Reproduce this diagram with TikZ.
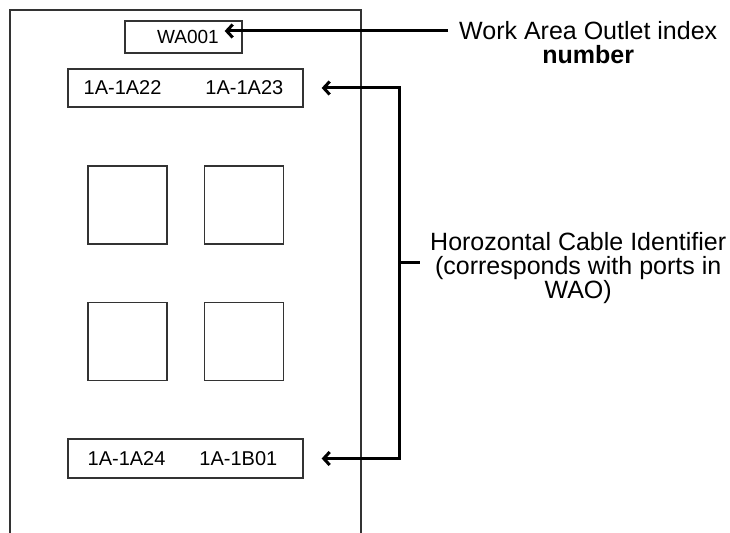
\documentclass[tikz,border=0pt]{standalone}
\usepackage{fontspec}
\setmainfont{Liberation Sans}
\usetikzlibrary{arrows.meta, positioning}

\tikzset{
  box/.style={draw=black!80, line width=1.3bp, inner sep=0pt},
  pad/.style={draw=black!80, line width=1.7bp, minimum width=79bp, minimum height=78bp},
  wire/.style={line width=3bp, line join=miter},
  arr/.style={wire, -{Straight Barb[length=6bp,width=13bp]}},
  note/.style={inner sep=0pt, align=center, font=\fontsize{25bp}{24bp}\selectfont}
}

\begin{document}
\begin{tikzpicture}[x=1bp, y=-1bp]
    \useasboundingbox (0,0) rectangle (730,533);

    % outlet face plate
    \draw[black!80, line width=1.3bp] (10,540) -- (10,10) -- (361,10) -- (361,540);

    \node[box, minimum width=117bp, minimum height=32bp, font=\fontsize{19bp}{19bp}\selectfont]
        (wa) at (183.5,37) {\hspace*{9bp}WA001};
    \node[box, minimum width=235bp, minimum height=38bp, font=\fontsize{20bp}{20bp}\selectfont]
        (top) at (185.5,88) {\hspace*{-4bp}1A-1A22\hspace{44bp}1A-1A23};
    \node[box, minimum width=235bp, minimum height=39bp, font=\fontsize{20bp}{20bp}\selectfont]
        (bot) at (185.5,458.5) {\hspace*{-6bp}1A-1A24\hspace{34bp}1A-1B01};

    \foreach \name/\x/\y in {sq1/127.5/205, sq2/244/205, sq3/127.5/341.5, sq4/244/341.5}
        \node[pad] (\name) at (\x,\y) {};

    % labels on the right
    \node[note, anchor=west] (woa) at (459,31) {Work Area Outlet index};
    \node[note, font=\fontsize{25bp}{24bp}\selectfont\bfseries, below=5bp of woa] (woanum) {number};
    \node[note, anchor=west] (hci) at (430,268.5)
        {Horozontal Cable Identifier\\(corresponds with ports in\\WAO)};

    \coordinate (watip) at ([xshift=-18bp]wa.east);
    \coordinate (brk) at (399,263);

    \draw[arr] ([xshift=-11bp]woa.west) -- (woa.west -| watip);
    \draw[wire] (brk) -- ([xshift=-10bp]hci.west |- brk);
    \draw[arr, {Straight Barb[length=6bp,width=13bp]}-{Straight Barb[length=6bp,width=13bp]}]
        ([xshift=18bp]top.east) -- (brk |- top.east) -- (brk |- bot.east) -- ([xshift=18bp]bot.east);
\end{tikzpicture}
\end{document}
